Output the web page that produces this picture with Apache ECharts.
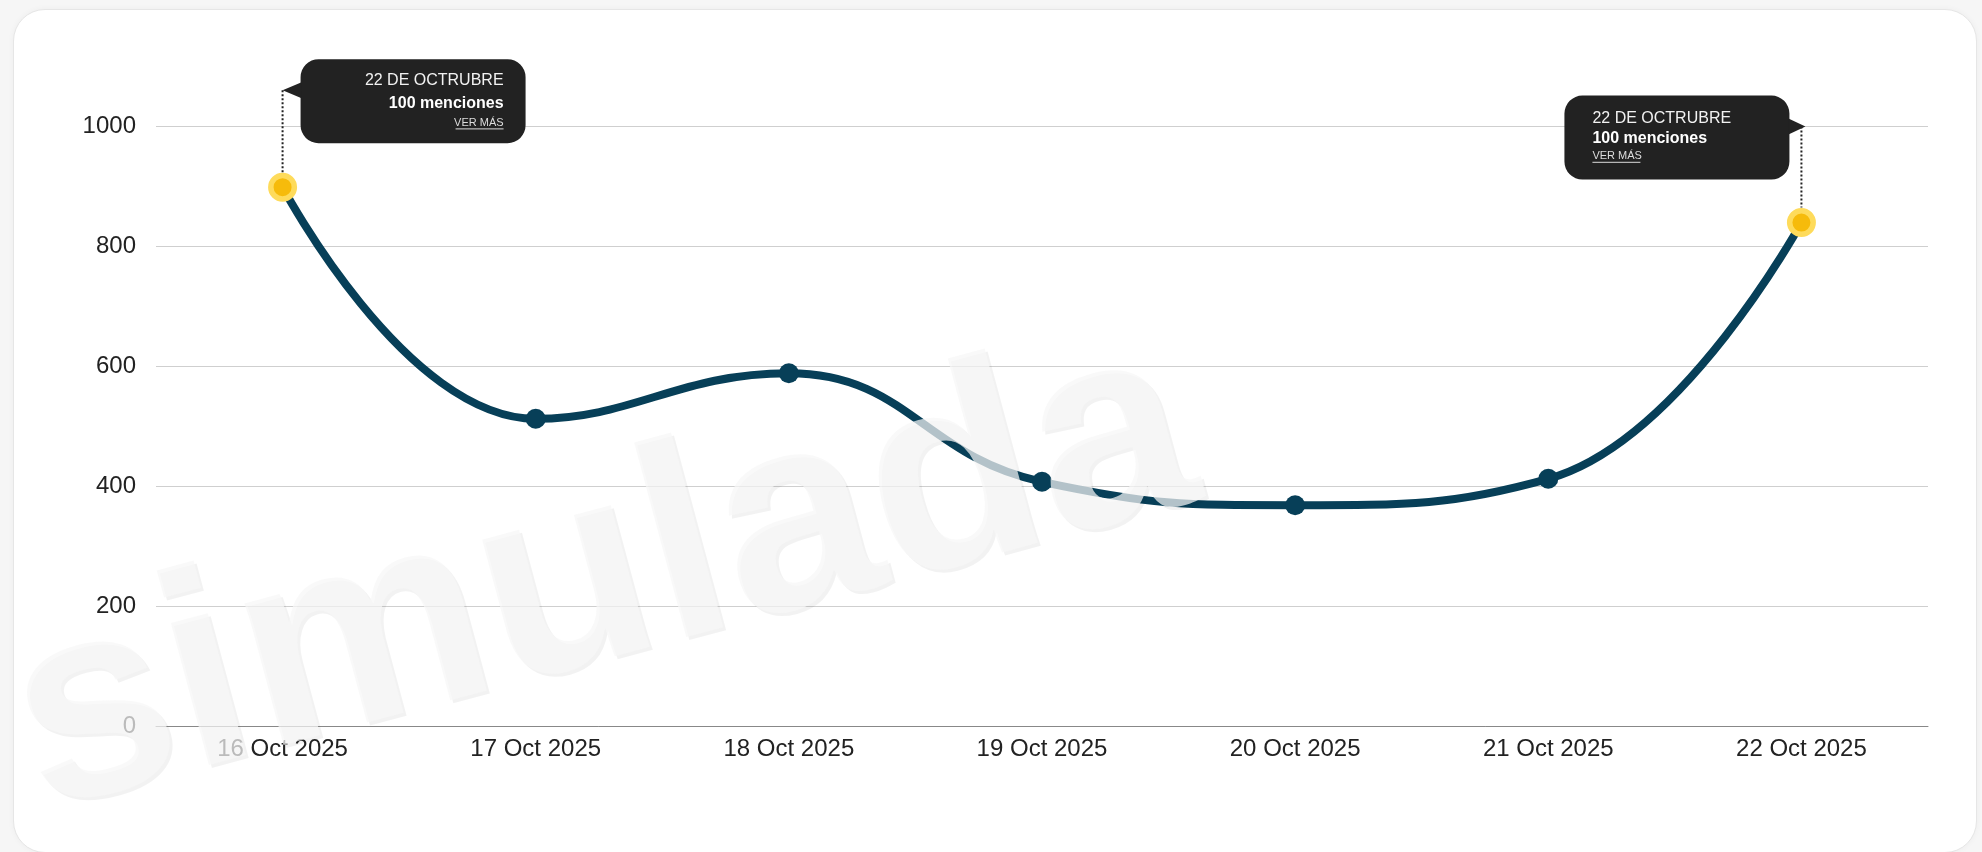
<!DOCTYPE html>
<html>
<head>
<meta charset="utf-8">
<script src="https://cdn.jsdelivr.net/npm/echarts@6/dist/echarts.min.js"></script>
<style>
html,body{margin:0;padding:0;background:#f6f6f6;width:1982px;height:852px;overflow:hidden;}
#card{position:absolute;left:13px;top:9px;width:1962px;height:842px;border-radius:32px;background:#fff;border:1px solid #e6e6e6;box-shadow:0 0 6px rgba(0,0,0,0.04);}
#c{position:absolute;left:0;top:0;width:1982px;height:852px;}
</style>
</head>
<body>
<div id="card"></div>
<div id="c"></div>
<script>
// ---- data ----
const categories = ['16 Oct 2025','17 Oct 2025','18 Oct 2025','19 Oct 2025','20 Oct 2025','21 Oct 2025','22 Oct 2025'];
const mentions = [898, 512, 588, 407, 368, 412, 839];
const yMin = 0, yMax = 1000, yInterval = 200;
const highlighted = [0, 6];
const calloutTitle = '22 DE OCTRUBRE';
const calloutValue = '100 menciones';
const calloutLink = 'VER MÁS';
const watermarkText = 'simulada';

// ---- style ----
const LINE = '#073f58';
const FONT = '"Liberation Sans", Arial, Helvetica, sans-serif';

const chart = echarts.init(document.getElementById('c'), null, {renderer: 'canvas'});

const seriesData = mentions.map((v, i) => {
  if (highlighted.includes(i)) {
    return {value: v, symbolSize: 23.5, itemStyle: {color: '#f6bb0b', borderColor: '#fedb5b', borderWidth: 5.5}};
  }
  return {value: v};
});

chart.setOption({
  animation: false,
  backgroundColor: 'transparent',
  grid: {left: 156, right: 54, top: 126, bottom: 126, containLabel: false, outerBoundsMode: 'none'},
  xAxis: {
    type: 'category',
    data: categories,
    boundaryGap: true,
    axisTick: {show: false},
    axisLine: {lineStyle: {color: '#888', width: 1}},
    axisLabel: {color: '#222', fontSize: 24, fontFamily: FONT, margin: 11}
  },
  yAxis: {
    type: 'value',
    min: yMin, max: yMax, interval: yInterval,
    axisLine: {show: false},
    axisTick: {show: false},
    splitLine: {lineStyle: {color: '#cfcfcf', width: 1}},
    axisLabel: {color: '#222', fontSize: 24, fontFamily: FONT, margin: 20, formatter: v => String(v)}
  },
  series: [{
    type: 'line',
    data: seriesData,
    smooth: 0.45,
    symbol: 'circle',
    symbolSize: 20,
    showSymbol: true,
    lineStyle: {color: LINE, width: 8},
    itemStyle: {color: LINE, borderWidth: 0},
    z: 3
  }]
});

function callout(idx, side) {
  const p = chart.convertToPixel({seriesIndex: 0}, [idx, mentions[idx]]);
  const W = 225, H = 84, R = 18;
  const els = [];
  let tip, bx, by;
  if (side === 'right') {
    tip = [p[0], p[1] - 97];
    bx = tip[0] + 18; by = tip[1] - 31;
  } else {
    tip = [p[0] + 4, p[1] - 96];
    bx = p[0] - 12 - W; by = tip[1] - 31;
  }
  els.push({type: 'line', z: 50, shape: {x1: p[0], y1: tip[1], x2: p[0], y2: p[1] - 15},
    style: {stroke: '#222', lineWidth: 2, lineDash: [2, 2]}});
  els.push({type: 'rect', z: 51, shape: {x: bx, y: by, width: W, height: H, r: R}, style: {fill: '#222222'}});
  const baseX = side === 'right' ? bx + 1 : bx + W - 1;
  els.push({type: 'polygon', z: 51, shape: {points: [[tip[0], tip[1]], [baseX, tip[1] - 8], [baseX, tip[1] + 8]]}, style: {fill: '#222222'}});
  let tx, align, ys;
  if (side === 'right') {
    tx = bx + W - 22; align = 'right'; ys = [by + 21.3, by + 44.7, by + 63.7];
  } else {
    tx = bx + 28; align = 'left'; ys = [by + 23.3, by + 43.3, by + 60.7];
  }
  els.push({type: 'text', z: 52, x: tx, y: ys[0], style: {text: calloutTitle, font: '16px ' + FONT, fill: '#f2f2f2', align: align, verticalAlign: 'middle'}});
  els.push({type: 'text', z: 52, x: tx, y: ys[1], style: {text: calloutValue, font: 'bold 16px ' + FONT, fill: '#ffffff', align: align, verticalAlign: 'middle'}});
  els.push({type: 'text', z: 52, x: tx, y: ys[2], style: {text: calloutLink, font: '11px ' + FONT, fill: '#dddddd', align: align, verticalAlign: 'middle'}});
  const lw = 48;
  const ux1 = align === 'right' ? tx - lw : tx;
  els.push({type: 'line', z: 52, shape: {x1: ux1, y1: ys[2] + 6, x2: ux1 + lw, y2: ys[2] + 6}, style: {stroke: '#dddddd', lineWidth: 1}});
  return els;
}

const rot = 15 * Math.PI / 180;
const wx = 603, wy = 580;
const wm = [
  {type: 'text', z: 100, x: wx + 3, y: wy + 3, rotation: rot,
    style: {text: watermarkText, font: 'bold 278px ' + FONT, fill: 'rgba(0,0,0,0.05)', align: 'center', verticalAlign: 'middle'}},
  {type: 'text', z: 101, x: wx, y: wy, rotation: rot,
    style: {text: watermarkText, font: 'bold 278px ' + FONT, fill: 'rgba(246,246,246,0.72)', align: 'center', verticalAlign: 'middle'}}
];

chart.setOption({graphic: {elements: [].concat(wm, callout(highlighted[0], 'right'), callout(highlighted[1], 'left'))}});
</script>
</body>
</html>
